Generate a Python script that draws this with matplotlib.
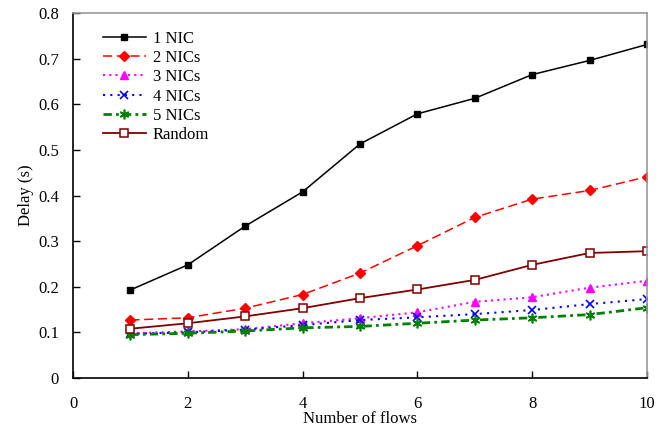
import matplotlib
matplotlib.use("Agg")
import matplotlib.pyplot as plt

flows = [1, 2, 3, 4, 5, 6, 7, 8, 9, 10]
nic1 = [0.193, 0.248, 0.333, 0.408, 0.513, 0.579, 0.613, 0.665, 0.696, 0.731]
nic2 = [0.127, 0.132, 0.153, 0.183, 0.230, 0.290, 0.352, 0.392, 0.411, 0.441]
nic3 = [0.098, 0.102, 0.107, 0.120, 0.131, 0.144, 0.167, 0.177, 0.198, 0.213]
nic4 = [0.097, 0.100, 0.106, 0.116, 0.127, 0.133, 0.140, 0.149, 0.162, 0.173]
nic5 = [0.095, 0.098, 0.103, 0.110, 0.113, 0.120, 0.127, 0.132, 0.139, 0.154]
rand = [0.108, 0.120, 0.135, 0.153, 0.175, 0.194, 0.215, 0.248, 0.274, 0.278]

xticks = [0, 2, 4, 6, 8, 10]
yticks = [0, 0.1, 0.2, 0.3, 0.4, 0.5, 0.6, 0.7, 0.8]
ytick_labels = ["0", "0.1", "0.2", "0.3", "0.4", "0.5", "0.6", "0.7", "0.8"]

plt.rcParams['font.family'] = ['Liberation Serif', 'DejaVu Serif']
plt.rcParams['font.size'] = 12

fig = plt.figure(figsize=(6.71, 4.33), dpi=100)
ax = fig.add_axes([73/671, 55/433, 574/671, 365/433])

ax.plot(flows, nic1, color='black', lw=1.1, marker='s', ms=5, label='1 NIC')
ax.plot(flows, nic2, color='#ff0000', lw=1.1, ls=(0, (6, 3)), marker='D', ms=5, label='2 NICs')
ax.plot(flows, nic3, color='#ff00ff', lw=1.5, ls=(0, (1, 2)), marker='^', ms=6, label='3 NICs')
ax.plot(flows, nic4, color='#0000ff', lw=1.5, ls=(0, (1, 2.5)), marker='x', ms=6, mew=1.2, label='4 NICs')
ax.plot(flows, nic5, color='#008000', lw=2, ls=(0, (3, 1.5, 1, 1.5)), marker=(6, 2, 0), ms=7, mew=1.2, label='5 NICs')
ax.plot(flows, rand, color='#800000', lw=1.3, marker='s', ms=6, mfc='white', mec='#800000', mew=1.1, label='Random')

ax.set_xlim(0, 10)
ax.set_ylim(0, 0.8)
ax.set_xticks(xticks)
ax.set_yticks(yticks)
ax.set_yticklabels(ytick_labels)
ax.tick_params(direction='in', length=5, width=1)
ax.tick_params(axis='x', pad=13)
ax.tick_params(axis='y', pad=10)

for s in ['left', 'bottom']:
    ax.spines[s].set_color('black')
    ax.spines[s].set_linewidth(1.2)
for s in ['top', 'right']:
    ax.spines[s].set_color('#999999')
    ax.spines[s].set_linewidth(1.2)

ax.set_xlabel('Number of flows', labelpad=-1)
ax.set_ylabel('Delay (s)', labelpad=3)

leg = ax.legend(loc='upper left', bbox_to_anchor=(0.04, 0.97), frameon=False,
                handlelength=2.6, handletextpad=0.4, labelspacing=0.2, borderaxespad=0)

fig.savefig('out.png', dpi=100)
